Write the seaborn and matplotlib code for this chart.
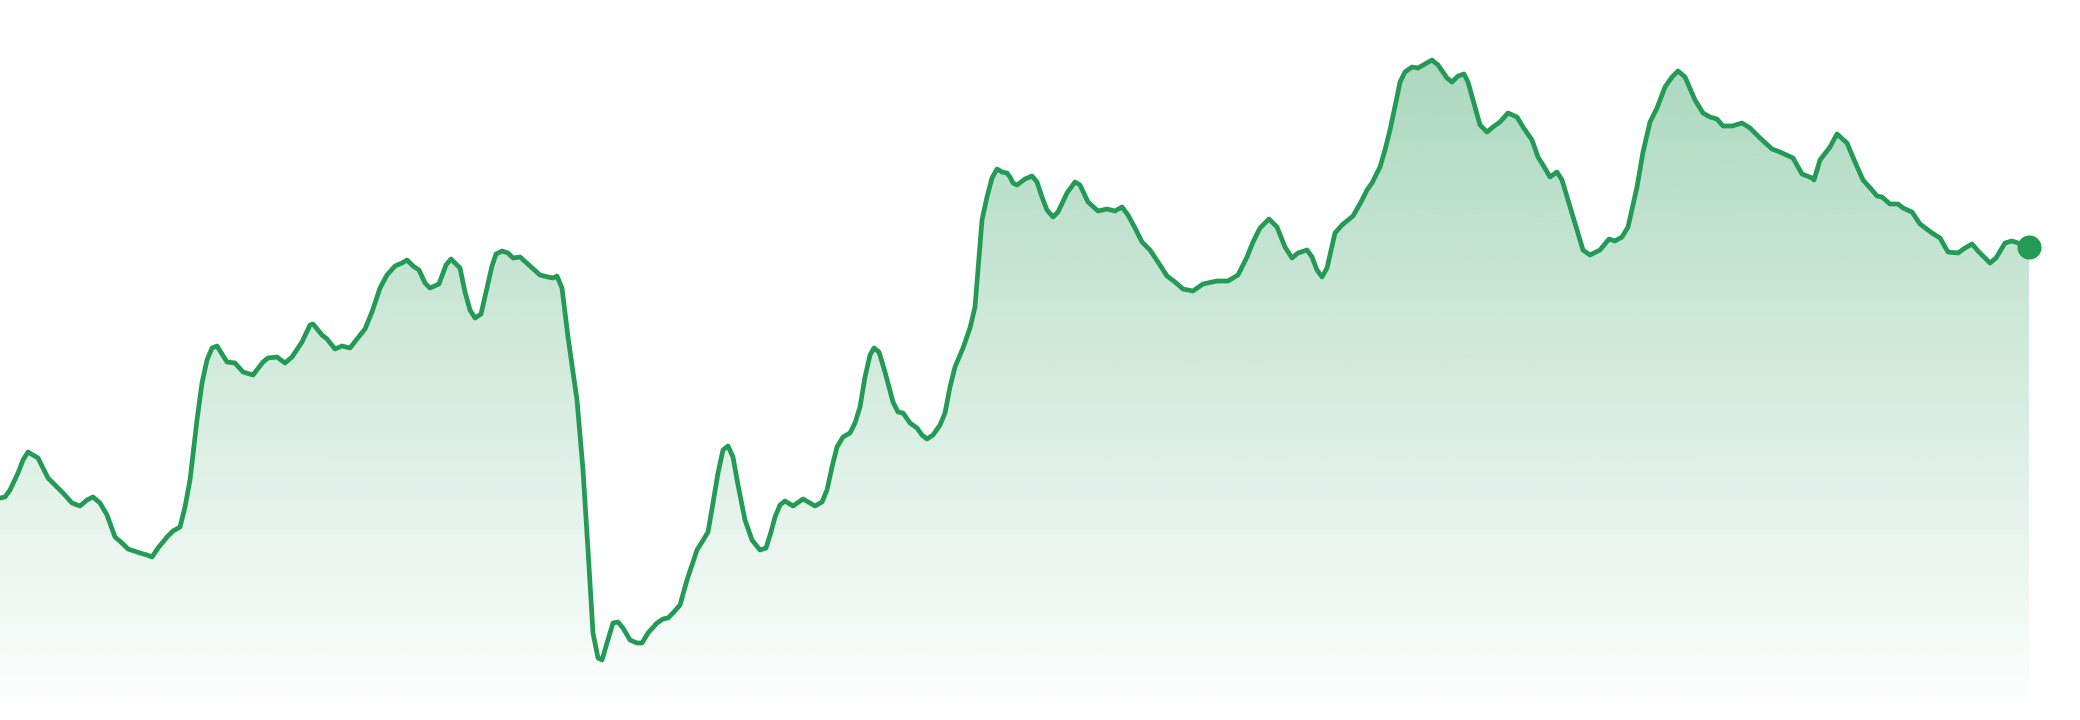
import numpy as np
import pandas as pd
import matplotlib
matplotlib.use("Agg")
import matplotlib.pyplot as plt
import seaborn as sns

# position along the series (sampled where the line bends) and its level
t = [0, 5, 10, 18, 23, 28, 38, 43, 48, 55, 63, 72, 80, 87, 93, 100, 107, 115, 122, 128,
     140, 147, 152, 158, 167, 173, 180, 185, 190, 197, 202, 207, 212, 217, 227, 235, 243, 253, 263, 268,
     277, 285, 292, 302, 310, 313, 322, 327, 335, 342, 350, 357, 365, 372, 380, 387, 395, 402, 407, 413,
     419, 425, 430, 439, 446, 451, 457, 460, 465, 470, 475, 481, 487, 492, 496, 502, 508, 513, 520, 530,
     540, 548, 553, 557, 562, 568, 577, 583, 588, 593, 598, 602, 607, 613, 618, 623, 630, 637, 642, 648,
     657, 663, 668, 673, 680, 687, 697, 702, 708, 713, 718, 723, 728, 733, 738, 745, 752, 760, 766, 771,
     775, 780, 785, 793, 803, 810, 815, 822, 827, 832, 837, 843, 850, 855, 860, 865, 870, 874, 879, 885,
     893, 898, 903, 910, 917, 922, 927, 933, 940, 945, 950, 955, 963, 970, 975, 978, 982, 987, 992, 997,
     1002, 1007, 1010, 1013, 1017, 1025, 1032, 1037, 1042, 1047, 1053, 1058, 1067, 1075, 1080, 1088, 1098, 1107, 1115, 1122,
     1128, 1135, 1142, 1150, 1158, 1167, 1175, 1183, 1193, 1203, 1217, 1228, 1238, 1247, 1253, 1260, 1269, 1277, 1285, 1292,
     1298, 1307, 1312, 1317, 1322, 1327, 1335, 1342, 1353, 1361, 1367, 1372, 1380, 1385, 1390, 1397, 1400, 1405, 1412, 1418,
     1425, 1432, 1438, 1447, 1452, 1458, 1464, 1468, 1473, 1480, 1487, 1493, 1500, 1508, 1517, 1523, 1532, 1538, 1543, 1550,
     1557, 1562, 1568, 1577, 1583, 1590, 1600, 1609, 1615, 1622, 1628, 1637, 1643, 1650, 1657, 1665, 1672, 1678, 1685, 1695,
     1703, 1710, 1717, 1723, 1732, 1742, 1750, 1760, 1772, 1780, 1793, 1802, 1812, 1814, 1820, 1830, 1837, 1847, 1855, 1863,
     1872, 1877, 1882, 1890, 1898, 1903, 1912, 1920, 1932, 1940, 1948, 1958, 1965, 1972, 1978, 1990, 1996, 2005, 2012, 2018,
     2029]

level = [222, 223, 230, 247, 260, 268, 262, 252, 242, 235, 227, 217, 214, 220, 223, 217, 205, 183, 177, 171,
         167, 165, 163, 172, 183, 189, 193, 213, 240, 300, 337, 360, 372, 374, 358, 357, 348, 345, 358, 362,
         363, 357, 363, 378, 395, 396, 385, 381, 371, 374, 372, 381, 391, 408, 432, 445, 454, 457, 460, 454,
         450, 437, 432, 436, 455, 461, 455, 452, 428, 410, 402, 406, 432, 454, 466, 469, 467, 462, 463, 454,
         445, 443, 442, 444, 432, 383, 320, 250, 170, 87, 62, 60, 77, 97, 98, 92, 80, 77, 77, 87,
         97, 101, 102, 107, 115, 140, 170, 178, 188, 217, 247, 270, 274, 263, 235, 200, 180, 170, 172, 188,
         203, 215, 219, 214, 221, 217, 214, 218, 230, 253, 273, 283, 287, 297, 313, 343, 365, 372, 368, 348,
         318, 308, 307, 297, 292, 285, 281, 285, 295, 307, 333, 353, 372, 392, 413, 450, 500, 523, 542, 551,
         548, 547, 543, 537, 535, 541, 544, 538, 523, 510, 503, 508, 527, 538, 535, 518, 509, 511, 509, 513,
         505, 492, 478, 470, 458, 444, 438, 431, 429, 436, 439, 439, 445, 463, 478, 492, 501, 493, 473, 462,
         467, 470, 463, 450, 443, 452, 487, 495, 504, 518, 530, 537, 553, 570, 590, 623, 638, 648, 653, 652,
         656, 660, 655, 642, 638, 644, 646, 638, 620, 595, 588, 593, 598, 607, 603, 593, 580, 563, 555, 543,
         548, 540, 520, 490, 470, 465, 470, 481, 479, 483, 493, 533, 568, 598, 612, 633, 643, 649, 643, 620,
         607, 603, 601, 594, 594, 597, 592, 582, 571, 568, 562, 546, 542, 540, 560, 573, 586, 577, 558, 540,
         530, 524, 523, 516, 516, 512, 508, 496, 487, 482, 468, 467, 472, 476, 469, 457, 462, 477, 479, 477,
         473]

LINE = "#239a55"

sns.set_theme(style="white")
df = pd.DataFrame({"t": t, "level": level})

fig = plt.figure(figsize=(20.8, 7.2), dpi=100)
ax = fig.add_axes([0, 0, 1, 1])

# gradient area under the line, clipped to the filled polygon
area = ax.fill_between(df["t"], df["level"], 0, color="none", lw=0)
top = df["level"].max()
grad = np.zeros((256, 1, 4))
grad[:, 0, :3] = matplotlib.colors.to_rgb(LINE)
grad[:, 0, 3] = np.linspace(0.38, 0.0, 256)
im = ax.imshow(grad, extent=[df["t"].min(), df["t"].max(), 0, top],
               aspect="auto", origin="upper", zorder=1)
im.set_clip_path(area.get_paths()[0], transform=ax.transData)

sns.lineplot(data=df, x="t", y="level", color=LINE, ax=ax, zorder=3)
line = ax.lines[-1]
line.set_linewidth(3.4)
line.set_solid_joinstyle("round")
line.set_solid_capstyle("round")

sns.scatterplot(x=[t[-1]], y=[level[-1]], color=LINE, s=300, linewidth=0, ax=ax, zorder=4)

ax.set_xlim(0, 2080)
ax.set_ylim(0, 720)
ax.set_axis_off()

fig.savefig("out.png", dpi=100)
plt.close(fig)
